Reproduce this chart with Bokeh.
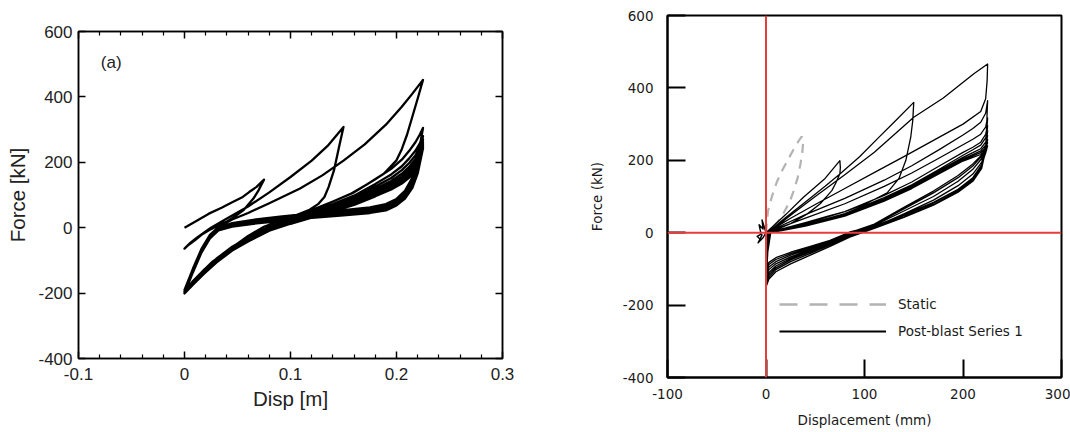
from bokeh.plotting import figure
from bokeh.layouts import row
from bokeh.models import (FixedTicker, LinearAxis, Span, Label, Legend, LegendItem,
                          CustomJSTickFormatter)
from bokeh.embed import file_html
from bokeh.resources import INLINE

# ---------------- (a) numerical model: displacement [m], force [kN] ----------------
A1_LOAD_D = [0.0, 0.012, 0.023, 0.035, 0.045, 0.055, 0.061, 0.068, 0.075]
A1_LOAD_F = [0, 22, 43, 61, 78, 94, 109, 125, 147]
A1_UNL_D = [0.075, 0.07, 0.065, 0.056, 0.047, 0.039, 0.03, 0.023, 0.016, 0.01, 0.004, 0.0]
A1_UNL_F = [147, 115, 89, 55, 33, 17, 4, -8, -22, -38, -52, -64]

A2_LOAD_D = [0.0, 0.006, 0.012, 0.025, 0.04, 0.06, 0.08, 0.1, 0.12, 0.135, 0.15]
A2_LOAD_F = [-64, -45, -30, 0, 28, 65, 108, 155, 205, 250, 308]
A2_UNL_D = [0.15, 0.146, 0.141, 0.136, 0.132, 0.126, 0.118, 0.105, 0.09, 0.075, 0.06, 0.045, 0.03, 0.018, 0.008, 0.0]
A2_UNL_F = [308, 250, 175, 125, 94, 72, 55, 38, 22, 3, -25, -60, -100, -135, -165, -190]

A3_LOAD_D = [0.0, 0.008, 0.016, 0.024, 0.032, 0.045, 0.06, 0.08, 0.109, 0.13, 0.15, 0.17, 0.19, 0.205, 0.215, 0.225]
A3_LOAD_F = [-190, -125, -65, -22, 2, 25, 45, 75, 120, 160, 205, 255, 315, 370, 410, 452]
A3_UNL_D = [0.225, 0.22, 0.215, 0.21, 0.205, 0.2, 0.188, 0.172, 0.157, 0.14, 0.125, 0.11, 0.095, 0.082, 0.068, 0.057, 0.045, 0.035, 0.026, 0.018, 0.01, 0.0]
A3_UNL_F = [452, 395, 340, 285, 240, 206, 165, 132, 104, 80, 60, 40, 18, -3, -22, -39, -62, -85, -105, -130, -160, -195]

# repeated cycles at full amplitude (0.225 m)
A_FULL_LOAD_D = [0.0, 0.008, 0.016, 0.024, 0.032, 0.045, 0.065, 0.09, 0.12, 0.15, 0.175, 0.19, 0.2, 0.208, 0.215, 0.22, 0.225]
A_FULL_UNL_D = [0.225, 0.222, 0.218, 0.212, 0.205, 0.195, 0.18, 0.16, 0.14, 0.12, 0.1, 0.08, 0.06, 0.045, 0.03, 0.018, 0.008, 0.0]

A4_LOAD_F = [-195, -128, -68, -25, 0, 14, 24, 34, 44, 54, 62, 72, 88, 113, 153, 213, 305]
A4_UNL_F = [305, 285, 262, 235, 208, 180, 148, 108, 80, 54, 28, 3, -30, -58, -95, -130, -163, -196]
A5_LOAD_F = [-196, -130, -70, -27, -2, 11, 21, 31, 41, 50, 58, 68, 84, 108, 146, 198, 280]
A5_UNL_F = [280, 258, 236, 212, 188, 163, 134, 98, 72, 48, 24, 0, -33, -61, -98, -133, -166, -197]
A6_LOAD_F = [-197, -131, -71, -28, -3, 9, 19, 28, 38, 47, 55, 65, 80, 103, 140, 190, 270]
A6_UNL_F = [270, 246, 222, 198, 176, 152, 126, 92, 67, 44, 21, -2, -35, -63, -100, -135, -168, -198]
A7_LOAD_F = [-198, -132, -72, -29, -4, 8, 17, 26, 36, 45, 52, 62, 77, 99, 135, 183, 262]
A7_UNL_F = [262, 236, 210, 186, 165, 143, 118, 86, 62, 40, 18, -4, -37, -65, -102, -137, -170, -199]
A8_LOAD_F = [-199, -133, -73, -30, -5, 6, 15, 24, 34, 43, 50, 59, 74, 96, 131, 178, 256]
A8_UNL_F = [256, 228, 200, 176, 156, 135, 111, 81, 58, 37, 16, -6, -39, -67, -104, -139, -171, -200]
A9_LOAD_F = [-200, -134, -74, -31, -6, 5, 14, 22, 32, 41, 48, 57, 72, 93, 127, 173, 251]
A9_UNL_F = [251, 220, 192, 168, 148, 128, 105, 77, 55, 35, 14, -7, -40, -68, -105, -140, -172, -200]
A10_LOAD_F = [-200, -135, -75, -32, -7, 4, 13, 21, 31, 39, 46, 55, 70, 91, 124, 169, 247]
A10_UNL_F = [247, 212, 184, 160, 141, 122, 100, 73, 52, 33, 13, -8, -41, -69, -106, -141, -173, -201]
A11_LOAD_F = [-201, -136, -76, -33, -8, 3, 12, 20, 30, 38, 45, 53, 68, 89, 122, 166, 243]
A11_UNL_F = [243, 205, 176, 153, 135, 117, 96, 70, 50, 31, 12, -9, -42, -70, -107, -142, -174, -201]

A_X_TICKS = [-0.1, 0.0, 0.1, 0.2, 0.3]
A_X_MINOR = [-0.08, -0.06, -0.04, -0.02, 0.02, 0.04, 0.06, 0.08,
             0.12, 0.14, 0.16, 0.18, 0.22, 0.24, 0.26, 0.28]
A_Y_TICKS = [-400, -200, 0, 200, 400, 600]

# ---------------- (b) post-blast test: displacement [mm], force [kN] ----------------
B1_LOAD_D = [0, 20, 38, 60, 75]
B1_LOAD_F = [0, 50, 98, 150, 199]
B1_UNL_D = [75, 75.5, 75, 71, 67, 60, 55, 42, 25, 8, 2, 0]
B1_UNL_F = [199, 180, 163, 138, 117, 95, 80, 52, 25, 6, 1, -25]

B2_LOAD_D = [0, 3, 20, 40, 60, 75, 95, 114, 130, 150]
B2_LOAD_F = [-25, 3, 42, 85, 128, 162, 210, 262, 305, 360]
B2_UNL_D = [150, 149, 147, 142, 135, 123, 100, 80, 62, 40, 20, 5, 0]
B2_UNL_F = [360, 310, 265, 200, 150, 110, 78, 58, 45, 28, 13, 3, -85]

B3_LOAD_D = [0, 2, 5, 25, 50, 80, 110, 150, 180, 211, 225]
B3_LOAD_F = [-85, -20, 5, 48, 100, 160, 222, 319, 372, 439, 466]
B3_UNL_D = [225, 224.5, 223, 218, 200, 170, 140, 114, 80, 50, 25, 8, 2, 0]
B3_UNL_F = [466, 420, 370, 335, 300, 255, 210, 172, 122, 78, 40, 12, 2, -150]

B_FULL_LOAD_D = [0, 3, 10, 25, 45, 65, 85, 110, 140, 170, 195, 210, 219, 223, 225]
B_FULL_UNL_D = [225, 223, 218, 210, 200, 175, 148, 120, 80, 40, 12, 3, 0]

B4_LOAD_F = [-150, -128, -108, -86, -62, -38, -12, 12, 42, 76, 112, 142, 178, 228, 365]
B4_UNL_F = [365, 330, 305, 288, 270, 228, 185, 145, 95, 50, 15, 3, -142]
B5_LOAD_F = [-142, -122, -102, -80, -57, -34, -10, 16, 52, 90, 130, 162, 195, 235, 317]
B5_UNL_F = [317, 292, 272, 258, 243, 205, 165, 128, 80, 40, 12, 3, -135]
B6_LOAD_F = [-135, -116, -97, -75, -53, -31, -8, 20, 60, 100, 142, 175, 205, 240, 296]
B6_UNL_F = [296, 272, 250, 236, 222, 183, 140, 103, 58, 25, 7, 2, -128]
B7_LOAD_F = [-128, -110, -92, -71, -50, -29, -6, 14, 44, 78, 114, 146, 182, 224, 282]
B7_UNL_F = [282, 262, 242, 229, 214, 174, 132, 97, 53, 22, 6, 1, -118]
B8_LOAD_F = [-118, -102, -86, -67, -47, -27, -4, 22, 66, 110, 152, 184, 212, 240, 268]
B8_UNL_F = [268, 250, 232, 221, 208, 170, 128, 93, 50, 21, 6, 1, -110]
B9_LOAD_F = [-110, -95, -80, -62, -44, -25, -2, 16, 48, 82, 118, 150, 186, 222, 258]
B9_UNL_F = [258, 242, 226, 216, 204, 167, 126, 91, 48, 20, 5, 1, -102]
B10_LOAD_F = [-102, -88, -74, -58, -41, -23, 0, 24, 70, 115, 158, 190, 215, 235, 248]
B10_UNL_F = [248, 235, 221, 212, 201, 164, 124, 89, 47, 19, 5, 0, -95]
B11_LOAD_F = [-95, -82, -69, -54, -38, -21, 2, 18, 50, 84, 120, 152, 188, 220, 240]
B11_UNL_F = [240, 228, 216, 208, 198, 162, 122, 87, 46, 18, 4, 0, -90]

# small oscillation recorded around the origin before cycling
B_NOISE_D = [0, -2, -4, -3, -7, -5, -9, -6, -4, -8, -3, 0]
B_NOISE_F = [0, 18, 35, 10, 22, -4, -10, -18, -6, -28, -14, 0]

# static reference test
STATIC_D = [0, 2, 6, 11, 17, 23, 30, 36, 38, 37, 35, 32, 28, 24, 18, 12, 6, 2]
STATIC_F = [0, 60, 100, 140, 175, 205, 240, 265, 262, 225, 190, 150, 115, 85, 55, 30, 12, 3]

B_X_TICKS = [-100, 0, 100, 200, 300]
B_Y_TICKS = [-400, -200, 0, 200, 400, 600]


def chain(*branches):
    xs, ys = [], []
    for d, f in branches:
        xs.extend(d)
        ys.extend(f)
    return xs, ys


plain_fmt = CustomJSTickFormatter(code="return String(tick);")
blank_fmt = CustomJSTickFormatter(code="return '';")

# ================= left figure =================
ARIAL = "Liberation Sans"
pa = figure(width=540, height=432, x_range=(-0.1, 0.3), y_range=(-400, 600),
            output_backend="svg", toolbar_location=None,
            min_border_left=78, min_border_right=38, min_border_top=31, min_border_bottom=74)
pa.frame_align = False
pa.grid.visible = False
pa.outline_line_color = "black"
pa.outline_line_width = 1.5

a_x, a_f = chain(
    (A1_LOAD_D, A1_LOAD_F), (A1_UNL_D, A1_UNL_F),
    (A2_LOAD_D, A2_LOAD_F), (A2_UNL_D, A2_UNL_F),
    (A3_LOAD_D, A3_LOAD_F), (A3_UNL_D, A3_UNL_F),
    (A_FULL_LOAD_D, A4_LOAD_F), (A_FULL_UNL_D, A4_UNL_F),
    (A_FULL_LOAD_D, A5_LOAD_F), (A_FULL_UNL_D, A5_UNL_F),
    (A_FULL_LOAD_D, A6_LOAD_F), (A_FULL_UNL_D, A6_UNL_F),
    (A_FULL_LOAD_D, A7_LOAD_F), (A_FULL_UNL_D, A7_UNL_F),
    (A_FULL_LOAD_D, A8_LOAD_F), (A_FULL_UNL_D, A8_UNL_F),
    (A_FULL_LOAD_D, A9_LOAD_F), (A_FULL_UNL_D, A9_UNL_F),
    (A_FULL_LOAD_D, A10_LOAD_F), (A_FULL_UNL_D, A10_UNL_F),
    (A_FULL_LOAD_D, A11_LOAD_F), (A_FULL_UNL_D, A11_UNL_F),
)
pa.line(a_x, a_f, line_color="black", line_width=2.3, line_join="round")


def style_a_axis(ax):
    ax.axis_line_color = "black"
    ax.axis_line_width = 1.5
    ax.major_tick_line_color = "black"
    ax.major_tick_line_width = 1.5
    ax.minor_tick_line_color = "black"
    ax.minor_tick_line_width = 1.2
    ax.major_tick_in = 7
    ax.major_tick_out = 0
    ax.minor_tick_in = 4
    ax.minor_tick_out = 0
    ax.major_label_text_font = ARIAL
    ax.major_label_text_font_size = "17px"
    ax.major_label_text_color = "#222222"
    ax.axis_label_text_font = ARIAL
    ax.axis_label_text_font_size = "20.5px"
    ax.axis_label_text_font_style = "normal"
    ax.axis_label_text_color = "#222222"


xa = pa.xaxis[0]
xa.ticker = FixedTicker(ticks=A_X_TICKS, minor_ticks=A_X_MINOR)
xa.formatter = CustomJSTickFormatter(code="return Number(tick.toFixed(1)).toString();")
xa.axis_label = "Disp [m]"
style_a_axis(xa)
xa.major_label_standoff = 9
xa.axis_label_standoff = 4

ya = pa.yaxis[0]
ya.ticker = FixedTicker(ticks=A_Y_TICKS)
ya.formatter = plain_fmt
ya.axis_label = "Force [kN]"
style_a_axis(ya)
ya.major_label_standoff = 6
ya.axis_label_standoff = 6

top_a = LinearAxis(ticker=FixedTicker(ticks=A_X_TICKS, minor_ticks=A_X_MINOR), formatter=blank_fmt)
style_a_axis(top_a)
pa.add_layout(top_a, "above")
right_a = LinearAxis(ticker=FixedTicker(ticks=A_Y_TICKS), formatter=blank_fmt)
style_a_axis(right_a)
pa.add_layout(right_a, "right")

pa.add_layout(Label(x=-0.079, y=505, text="(a)", text_font=ARIAL, text_font_size="17px",
                    text_baseline="middle", text_color="#222222"))

# ================= right figure =================
TAHOMA = "DejaVu Sans"
pb = figure(width=530, height=432, x_range=(-100, 300), y_range=(-400, 600),
            output_backend="svg", toolbar_location=None,
            min_border_left=127, min_border_right=9, min_border_top=15, min_border_bottom=55)
pb.frame_align = False
pb.grid.visible = False
pb.outline_line_color = "black"
pb.outline_line_width = 2

pb.line(STATIC_D, STATIC_F, line_color="#b3b3b3", line_width=2.2, line_dash="9 7")

b_x, b_f = chain(
    (B1_LOAD_D, B1_LOAD_F), (B1_UNL_D, B1_UNL_F),
    (B2_LOAD_D, B2_LOAD_F), (B2_UNL_D, B2_UNL_F),
    (B3_LOAD_D, B3_LOAD_F), (B3_UNL_D, B3_UNL_F),
    (B_FULL_LOAD_D, B4_LOAD_F), (B_FULL_UNL_D, B4_UNL_F),
    (B_FULL_LOAD_D, B5_LOAD_F), (B_FULL_UNL_D, B5_UNL_F),
    (B_FULL_LOAD_D, B6_LOAD_F), (B_FULL_UNL_D, B6_UNL_F),
    (B_FULL_LOAD_D, B7_LOAD_F), (B_FULL_UNL_D, B7_UNL_F),
    (B_FULL_LOAD_D, B8_LOAD_F), (B_FULL_UNL_D, B8_UNL_F),
    (B_FULL_LOAD_D, B9_LOAD_F), (B_FULL_UNL_D, B9_UNL_F),
    (B_FULL_LOAD_D, B10_LOAD_F), (B_FULL_UNL_D, B10_UNL_F),
    (B_FULL_LOAD_D, B11_LOAD_F), (B_FULL_UNL_D, B11_UNL_F),
)
pb.line(b_x, b_f, line_color="black", line_width=1.3, line_join="round")
pb.line(B_NOISE_D, B_NOISE_F, line_color="black", line_width=1.4, line_join="round")

# red reference axes through the origin
pb.add_layout(Span(location=0, dimension="height", line_color="#e63c3c", line_width=2, level="overlay"))
pb.add_layout(Span(location=0, dimension="width", line_color="#e63c3c", line_width=2, level="overlay"))

xb = pb.xaxis[0]
xb.ticker = FixedTicker(ticks=B_X_TICKS)
xb.axis_label = "Displacement (mm)"
yb = pb.yaxis[0]
yb.ticker = FixedTicker(ticks=B_Y_TICKS)
yb.axis_label = "Force (kN)"
for ax in (xb, yb):
    ax.formatter = plain_fmt
    ax.axis_line_color = "black"
    ax.axis_line_width = 2
    ax.major_tick_line_color = "black"
    ax.major_tick_line_width = 2
    ax.major_tick_in = 18
    ax.major_tick_out = 0
    ax.minor_tick_line_color = None
    ax.major_label_text_font = TAHOMA
    ax.major_label_text_font_size = "13.5px"
    ax.major_label_text_color = "#1a1a1a"
    ax.axis_label_text_font = TAHOMA
    ax.axis_label_text_font_size = "13.5px"
    ax.axis_label_text_font_style = "normal"
    ax.axis_label_text_color = "#1a1a1a"
xb.major_label_standoff = 11
xb.axis_label_standoff = 10
yb.major_label_standoff = 14
yb.axis_label_standoff = 15

# legend keys (single undefined point, so only the key swatch is drawn)
NAN = float("nan")
key_static = pb.line([NAN], [NAN], line_color="#b3b3b3", line_width=2.5, line_dash="18 12")
key_post = pb.line([NAN], [NAN], line_color="black", line_width=2.2)
legend = Legend(items=[LegendItem(label="Static", renderers=[key_static]),
                       LegendItem(label="Post-blast Series 1", renderers=[key_post])],
                location=(112, 36), glyph_width=107, glyph_height=20, label_height=20,
                label_standoff=12, spacing=7, padding=0, margin=0,
                border_line_alpha=0, background_fill_alpha=0,
                label_text_font=TAHOMA, label_text_font_size="13.5px",
                label_text_color="#1a1a1a")
pb.add_layout(legend)

layout = row(pa, pb)
open("out.html", "w").write(file_html(layout, INLINE))
